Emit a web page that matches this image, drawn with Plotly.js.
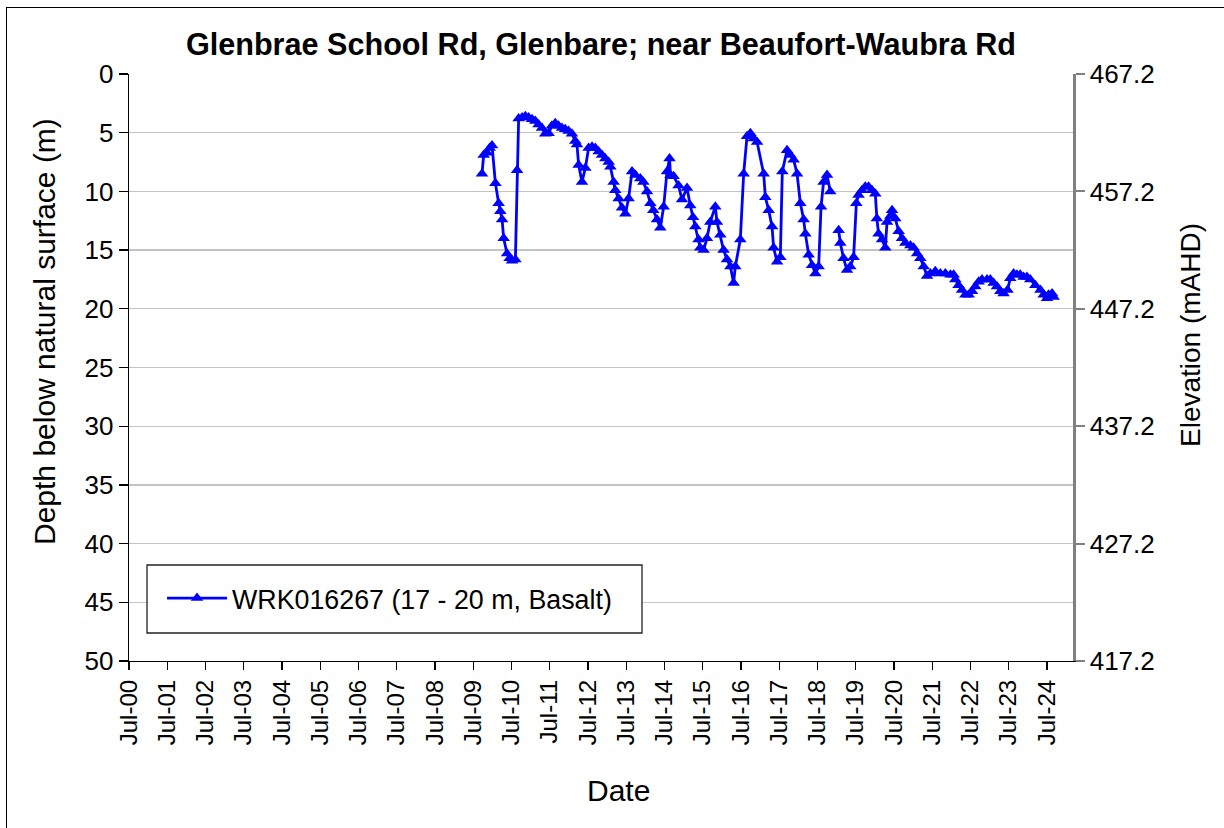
<!DOCTYPE html>
<html>
<head>
<meta charset="utf-8">
<script src="https://cdn.plot.ly/plotly-3.0.1.min.js"></script>
<style>
  html, body { margin: 0; padding: 0; background: #fff; overflow: hidden; }
  #frame { position: absolute; left: 6px; top: 7px; width: 1300px; height: 900px; border-left: 1.5px solid #000; border-top: 1.5px solid #000; pointer-events: none; z-index: 10; }
  #chart { position: absolute; left: 0; top: 0; width: 1224px; height: 828px; }
</style>
</head>
<body>
<div id="chart"></div>
<div id="frame"></div>
<script>
// Sample dates and depth below natural surface (m)
const dates = [
  '2009-09-23','2009-10-09','2009-11-10','2009-12-05','2009-12-28','2010-01-29','2010-03-01','2010-03-17','2010-04-03','2010-04-18',
  '2010-05-20','2010-06-14','2010-07-07','2010-08-08','2010-08-24','2010-09-08','2010-10-11','2010-11-11','2010-12-12','2011-01-14',
  '2011-02-14','2011-03-17','2011-04-19','2011-05-20','2011-06-21','2011-07-23','2011-08-24','2011-09-24','2011-10-27','2011-11-27',
  '2011-12-29','2012-01-30','2012-03-02','2012-03-18','2012-04-03','2012-05-05','2012-06-06','2012-07-07','2012-08-09','2012-09-09',
  '2012-10-11','2012-11-12','2012-12-14','2013-01-15','2013-01-31','2013-03-03','2013-03-19','2013-04-20','2013-05-22','2013-06-23',
  '2013-07-24','2013-08-26','2013-09-27','2013-11-13','2013-12-12','2014-01-16','2014-02-17','2014-03-17','2014-04-21','2014-05-23',
  '2014-06-24','2014-07-26','2014-08-19','2014-08-28','2014-09-27','2014-11-13','2014-12-16','2015-02-02','2015-03-05','2015-03-31',
  '2015-04-22','2015-05-23','2015-06-08','2015-07-10','2015-08-11','2015-09-12','2015-10-30','2015-11-15','2015-12-17','2016-01-17',
  '2016-02-19','2016-03-22','2016-04-22','2016-05-08','2016-06-25','2016-07-27','2016-08-28','2016-09-29','2016-10-30','2016-12-02',
  '2017-02-03','2017-02-19','2017-03-23','2017-04-24','2017-05-09','2017-06-11','2017-07-12','2017-07-31','2017-09-14','2017-10-16',
  '2017-11-16','2017-12-19','2018-01-19','2018-02-20','2018-03-08','2018-04-09','2018-05-11','2018-06-12','2018-07-13','2018-08-05',
  '2018-08-29','2018-10-01','2018-11-01','2018-12-10','2019-01-20','2019-02-05','2019-03-08','2019-04-10','2019-05-11','2019-06-12',
  '2019-07-08','2019-07-29','2019-08-31','2019-10-01','2019-11-02','2019-12-04','2020-01-05','2020-01-20','2020-02-05','2020-03-09',
  '2020-04-10','2020-04-26','2020-05-28','2020-06-13','2020-07-14','2020-08-15','2020-09-16','2020-10-18','2020-12-05','2021-01-05',
  '2021-02-07','2021-03-10','2021-04-11','2021-05-13','2021-06-14','2021-07-31','2021-09-17','2021-11-04','2021-12-22','2022-01-22',
  '2022-02-07','2022-03-10','2022-04-12','2022-05-14','2022-06-15','2022-07-17','2022-08-17','2022-09-18','2022-10-20','2022-12-07',
  '2023-01-07','2023-02-08','2023-03-12','2023-04-13','2023-05-14','2023-06-21','2023-07-17','2023-08-18','2023-09-19','2023-10-20',
  '2023-11-21','2023-12-23','2024-01-24','2024-03-12','2024-04-30','2024-05-31','2024-07-02','2024-07-17','2024-08-19','2024-09-03'
];
const depth = [
  8.5, 6.9, 6.7, 6.3, 6.1, 9.3, 11.0, 11.7, 12.4, 14.0,
  15.3, 15.7, 15.9, 15.8, 8.2, 3.8, 3.7, 3.6, 3.7, 3.85,
  4.0, 4.3, 4.6, 5.1, 5.05, 4.4, 4.2, 4.4, 4.6, 4.7,
  4.85, 5.1, 5.7, 6.0, 7.75, 9.2, 8.0, 6.3, 6.2, 6.3,
  6.6, 6.9, 7.2, 7.5, 7.9, 9.2, 9.9, 10.6, 11.4, 11.9,
  10.6, 8.3, 8.6, 8.9, 9.2, 10.0, 11.0, 11.6, 12.4, 13.1,
  11.3, 8.3, 7.2, 8.6, 8.7, 9.5, 10.7, 9.7, 11.2, 12.2,
  13.0, 14.1, 14.8, 15.0, 14.0, 12.6, 11.3, 12.6, 13.7, 15.0,
  15.8, 16.4, 17.8, 16.4, 14.1, 8.5, 5.3, 5.05, 5.5, 5.8,
  8.5, 10.5, 11.6, 13.0, 14.8, 16.0, 15.6, 8.3, 6.5, 6.9,
  7.3, 8.5, 11.0, 12.4, 13.6, 15.4, 16.3, 17.0, 16.4, 11.3,
  9.2, 8.6, 10.0, null, 13.3, 14.4, 15.7, 16.7, 16.4, 15.6,
  11.0, 10.3, 9.9, 9.6, 9.6, 9.9, 10.2, 12.3, 13.6, 14.1,
  14.8, 12.6, 12.1, 11.6, 12.3, 13.4, 14.0, 14.4, 14.6, 14.8,
  15.3, 15.7, 16.4, 17.2, 17.0, 16.8, 17.0, 17.0, 17.1, 17.1,
  17.5, 18.0, 18.4, 18.8, 18.8, 18.5, 18.1, 17.7, 17.5, 17.5,
  17.5, 17.8, 18.1, 18.5, 18.7, 18.4, 17.4, 17.0, 17.1, 17.1,
  17.3, 17.3, 17.5, 18.0, 18.4, 18.8, 19.1, 18.8, 18.7, 19.0
];
const xTickVals = ['2000-07-01','2001-07-01','2002-07-01','2003-07-01','2004-07-01','2005-07-01','2006-07-01','2007-07-01',
  '2008-07-01','2009-07-01','2010-07-01','2011-07-01','2012-07-01','2013-07-01','2014-07-01','2015-07-01','2016-07-01',
  '2017-07-01','2018-07-01','2019-07-01','2020-07-01','2021-07-01','2022-07-01','2023-07-01','2024-07-01'];
const xTickText = ['Jul-00','Jul-01','Jul-02','Jul-03','Jul-04','Jul-05','Jul-06','Jul-07','Jul-08','Jul-09','Jul-10',
  'Jul-11','Jul-12','Jul-13','Jul-14','Jul-15','Jul-16','Jul-17','Jul-18','Jul-19','Jul-20','Jul-21','Jul-22','Jul-23','Jul-24'];
const depthTicks = [0, 5, 10, 15, 20, 25, 30, 35, 40, 45, 50];
const elevTicks = [417.2, 427.2, 437.2, 447.2, 457.2, 467.2];
const seriesName = 'WRK016267 (17 - 20 m, Basalt)';
const chartTitle = 'Glenbrae School Rd, Glenbare; near Beaufort-Waubra Rd';
const xTitle = 'Date';
const yTitle = 'Depth below natural surface (m)';
const y2Title = 'Elevation (mAHD)';

const FONT = 'Liberation Sans, Arial, sans-serif';

const traces = [
  {
    x: dates, y: depth, name: seriesName, type: 'scatter', mode: 'lines+markers',
    connectgaps: false,
    line: {color: '#0000FF', width: 2.8},
    marker: {symbol: 'triangle-up', size: 11, color: '#0000FF'}
  },
  {
    x: [xTickVals[0]], y: [elevTicks[0]], yaxis: 'y2', type: 'scatter', mode: 'markers',
    marker: {opacity: 0}, showlegend: false, hoverinfo: 'skip'
  }
];

const titleFont = {family: FONT, size: 30, color: '#000'};

const layout = {
  width: 1224, height: 828,
  margin: {l: 129, r: 151, t: 74, b: 167},
  paper_bgcolor: '#fff', plot_bgcolor: '#fff',
  font: {family: FONT, size: 24, color: '#000'},
  title: {text: chartTitle, font: {family: FONT, size: 30.6, color: '#000', weight: 'bold'},
          x: 0.5, xref: 'paper', xanchor: 'center', y: 1 - 44/828, yanchor: 'middle'},
  showlegend: true,
  legend: {x: 0.035, xanchor: 'left', y: 0.107, yanchor: 'middle', bgcolor: 'rgba(0,0,0,0)',
           borderwidth: 0, font: {family: FONT, size: 26.8, color: '#000'}, itemwidth: 60},
  xaxis: {
    type: 'date', range: ['2000-07-01', '2025-03-07'],
    tickmode: 'array', tickvals: xTickVals, ticktext: xTickText, tickangle: -90,
    ticks: 'outside', ticklen: 8, tickcolor: '#000', tickwidth: 1.3,
    showgrid: false, zeroline: false, showline: true, linecolor: '#000', linewidth: 1.3,
    tickfont: {family: FONT, size: 24, color: '#000'},
    automargin: false
  },
  yaxis: {
    range: [50, 0], tickmode: 'array', tickvals: depthTicks,
    ticks: 'outside', ticklen: 9, tickcolor: '#000', tickwidth: 1.3,
    showgrid: true, gridcolor: '#c4c4c4', gridwidth: 1.3, zeroline: false,
    showline: true, linecolor: '#000', linewidth: 1.3,
    tickfont: {family: FONT, size: 26, color: '#000'},
    automargin: false
  },
  yaxis2: {
    overlaying: 'y', side: 'right', anchor: 'x',
    range: [417.2, 467.2], tickmode: 'array', tickvals: elevTicks, tickformat: '.1f',
    ticks: 'outside', ticklen: 9, tickcolor: '#808080', tickwidth: 2,
    showgrid: false, zeroline: false, showline: true, linecolor: '#808080', linewidth: 2.5,
    tickfont: {family: FONT, size: 26, color: '#000'},
    automargin: false
  },
  annotations: [
    {text: xTitle, xref: 'paper', yref: 'paper', x: (618-129)/944, y: (661-790)/587,
     xanchor: 'center', yanchor: 'middle', showarrow: false, font: titleFont},
    {text: yTitle, xref: 'paper', yref: 'paper', x: (44-129)/944, y: (661-332)/587,
     xanchor: 'center', yanchor: 'middle', showarrow: false, textangle: -90, font: titleFont},
    {text: y2Title, xref: 'paper', yref: 'paper', x: (1190-129)/944, y: (661-335)/587,
     xanchor: 'center', yanchor: 'middle', showarrow: false, textangle: -90, font: {family: FONT, size: 28, color: '#000'}}
  ],
  shapes: [
    {type: 'rect', xref: 'paper', yref: 'paper', x0: (147-129)/944, x1: (642-129)/944,
     y0: (661-633)/587, y1: (661-565)/587, fillcolor: '#fff', line: {color: '#222', width: 1.3}, layer: 'above'}
  ]
};

Plotly.newPlot('chart', traces, layout, {displayModeBar: false, staticPlot: true});
</script>
</body>
</html>
